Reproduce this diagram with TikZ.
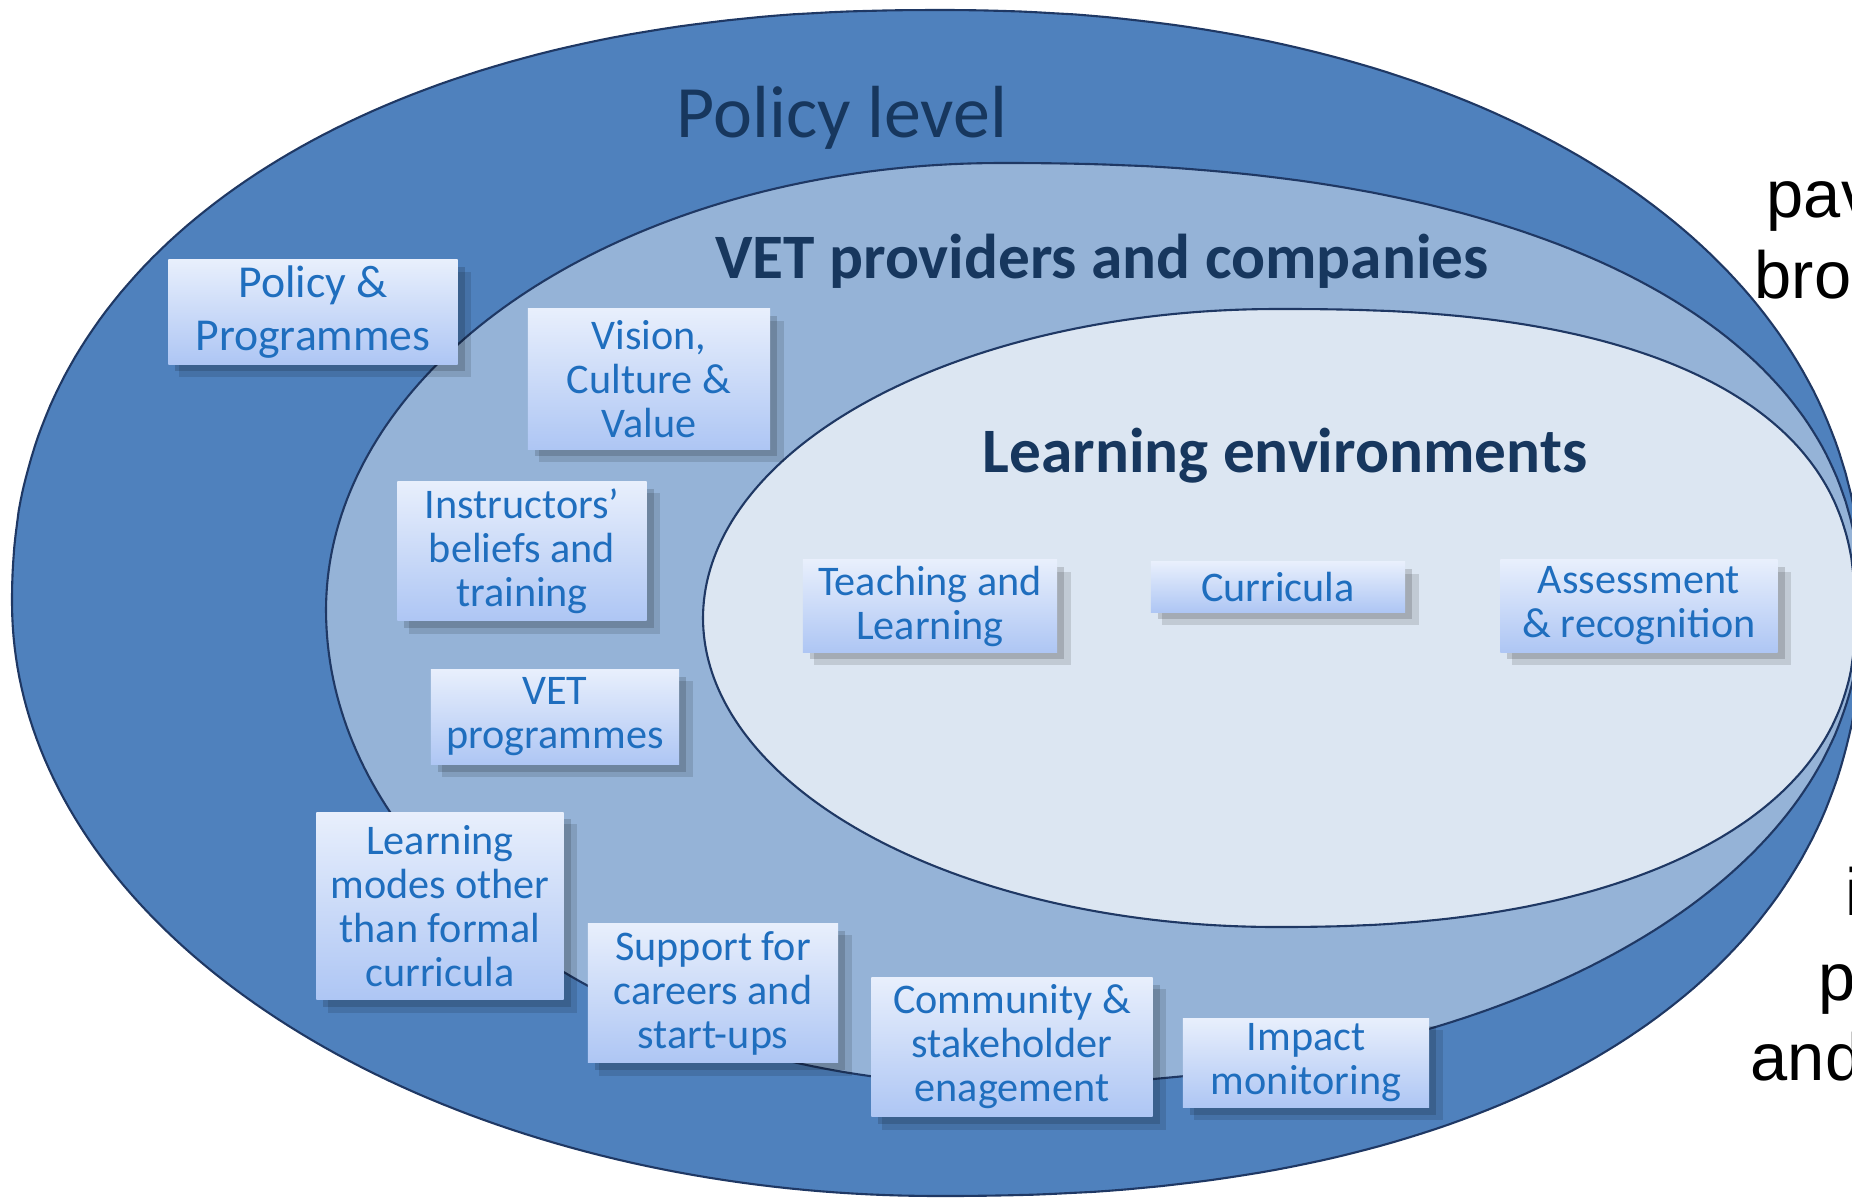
\documentclass[tikz,border=0pt]{standalone}
\usepackage{fontspec}
\setmainfont{Carlito}
\newfontfamily\arialfont{Liberation Sans}
\usetikzlibrary{shadows,positioning}
\definecolor{policyblue}{RGB}{79,129,189}
\definecolor{vetblue}{RGB}{149,179,215}
\definecolor{envblue}{RGB}{220,230,242}
\definecolor{ringline}{RGB}{31,56,100}
\definecolor{titlenavy}{RGB}{23,55,94}
\definecolor{boxtext}{RGB}{31,110,190}
\definecolor{boxtop}{RGB}{232,239,252}
\definecolor{boxbottom}{RGB}{174,198,244}

% rounded level outline: centre, left/right radius, top/bottom radius, exponents (top-left, top-right, bottom-right)
\newcommand{\levelpath}[9]{%
  plot[domain=180.2:269.8, samples=90] ({#1-#3*abs(cos(\x))^(2/#7)}, {#2-#5*abs(sin(\x))^(2/#7)})
  -- plot[domain=270.2:359.8, samples=90] ({#1+#4*abs(cos(\x))^(2/#8)}, {#2-#5*abs(sin(\x))^(2/#8)})
  -- plot[domain=0.2:89.8, samples=90] ({#1+#4*abs(cos(\x))^(2/#9)}, {#2+#6*abs(sin(\x))^(2/#9)})
  -- plot[domain=90.2:179.8, samples=90] ({#1-#3*abs(cos(\x))}, {#2+#6*abs(sin(\x))}) -- cycle}

\begin{document}
\begin{tikzpicture}[
    x=0.01cm, y=-0.01cm,
    ring/.style={draw=ringline, line width=0.6pt},
    box/.style={rectangle, top color=boxtop, bottom color=boxbottom, align=center,
                text=boxtext, font=\fontsize{12}{12.5}\selectfont, inner sep=0pt,
                drop shadow={shadow xshift=3.5pt, shadow yshift=-3.5pt, shadow scale=1.01, opacity=0.12, fill=black},
                drop shadow={shadow xshift=2pt, shadow yshift=-2pt, opacity=0.15, fill=black}},
    title/.style={text=titlenavy, font=\fontsize{18}{20}\selectfont\bfseries},
    side/.style={anchor=base west, font=\arialfont\fontsize{19}{23}\selectfont, inner sep=0pt}
]
    \useasboundingbox (0,0) rectangle (1852,1200);
    \begin{scope}
    \clip (0,0) rectangle (1852,1200);

    % Nested levels
    \filldraw[ring, fill=policyblue] \levelpath{937}{603}{925}{925}{593}{593}{2.2}{2.15}{2.3};
    \filldraw[ring, fill=vetblue] \levelpath{1000}{610}{674}{860}{447}{475}{2}{2.3}{2.1};
    \filldraw[ring, fill=envblue] \levelpath{1276}{618}{573}{579}{309}{309}{2}{2.5}{2.3};

    % Level titles
    \node[text=titlenavy, font=\fontsize{21}{24}\selectfont] (policylbl) at (842,118) {Policy level};
    \node[title] (vetlbl) at (1102,261) {VET providers and companies};
    \node[title] (envlbl) at (1285,456) {Learning environments};

    % Policy level
    \node[box, minimum width=2.89cm, minimum height=1.04cm, font=\fontsize{13}{15}\selectfont] (polprog) at (313,312) {Policy \&\\Programmes};

    % VET providers and companies
    \node[box, minimum width=2.42cm, minimum height=1.40cm] (vision) at (649,379) {Vision,\\Culture \&\\Value};
    \node[box, minimum width=2.49cm, minimum height=1.39cm] (instr) at (522,551) {Instructors'\\beliefs and\\training};
    \node[box, minimum width=2.48cm, minimum height=0.95cm] (vetprog) at (555,717) {VET\\programmes};
    \node[box, minimum width=2.47cm, minimum height=1.87cm] (modes) at (440,906) {Learning\\modes other\\than formal\\curricula};
    \node[box, minimum width=2.50cm, minimum height=1.39cm] (support) at (713,993) {Support for\\careers and\\start-ups};
    \node[box, minimum width=2.81cm, minimum height=1.39cm] (commun) at (1012,1047) {Community \&\\stakeholder\\enagement};
    \node[box, minimum width=2.46cm, minimum height=0.89cm] (impact) at (1306,1063) {Impact\\monitoring};

    % Learning environments
    \node[box, minimum width=2.54cm, minimum height=0.92cm] (teach) at (930,606) {Teaching and\\Learning};
    \node[box, minimum width=2.54cm, minimum height=0.50cm] (curric) at (1278,587) {Curricula};
    \node[box, minimum width=2.77cm, minimum height=0.92cm] (assess) at (1639,606) {Assessment\\\& recognition};

    % Text beside the figure
    \node[side] (sidea) at (1766,217) {pav};
    \node[side] (sideb) at (1754,298) {broa};
    \node[side] (sidec) at (1845,915) {i};
    \node[side] (sided) at (1818,1000) {p};
    \node[side] (sidee) at (1750,1080) {and};
    \end{scope}
\end{tikzpicture}
\end{document}
